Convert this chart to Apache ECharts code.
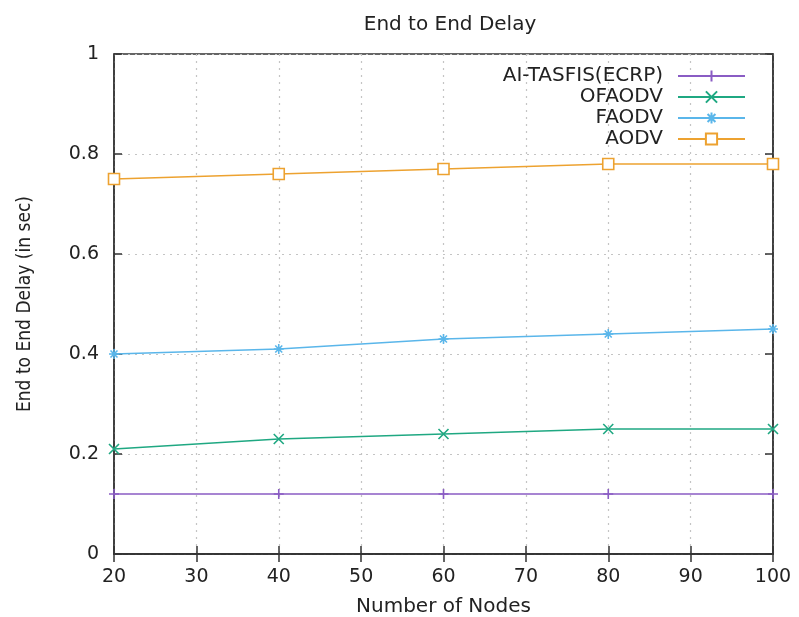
<!DOCTYPE html>
<html>
<head>
<meta charset="utf-8">
<script src="https://cdn.jsdelivr.net/npm/echarts@6/dist/echarts.min.js"></script>
<style>html,body{margin:0;padding:0;background:#fff;}#c{width:799px;height:617px;}</style>
</head>
<body>
<div id="c"></div>
<script>
const nodes = [20, 40, 60, 80, 100];
const aiTasfis = [0.12, 0.12, 0.12, 0.12, 0.12];
const ofaodv = [0.21, 0.23, 0.24, 0.25, 0.25];
const faodv = [0.40, 0.41, 0.43, 0.44, 0.45];
const aodv = [0.75, 0.76, 0.77, 0.78, 0.78];
const seriesNames = ['AI-TASFIS(ECRP)', 'OFAODV', 'FAODV', 'AODV'];

const FONT = 'DejaVu Sans';
const pair = arr => nodes.map((x, i) => [x, arr[i]]);

const styles = [
  {color: '#8a5cc4', symbol: 'path://M0,-1L0,1M-1,0L1,0', size: 10, fill: '#8a5cc4'},
  {color: '#1fa882', symbol: 'path://M-1,-1L1,1M-1,1L1,-1', size: 10, fill: '#1fa882'},
  {color: '#5ab6ea', symbol: 'path://M-1,0L1,0M0,-1L0,1M-0.7,-0.7L0.7,0.7M-0.7,0.7L0.7,-0.7', size: 10, fill: '#5ab6ea'},
  {color: '#eda230', symbol: 'rect', size: 11, fill: '#ffffff'}
];
const datasets = [aiTasfis, ofaodv, faodv, aodv];

const series = datasets.map((d, i) => ({
  name: seriesNames[i],
  type: 'line',
  data: pair(d),
  symbol: styles[i].symbol,
  symbolSize: styles[i].size,
  showAllSymbol: true,
  lineStyle: {color: styles[i].color, width: 1.6},
  itemStyle: {color: styles[i].fill, borderColor: styles[i].color, borderWidth: 1.6},
  emphasis: {disabled: true},
  z: 3
}));

const chart = echarts.init(document.getElementById('c'), null, {renderer: 'canvas'});
chart.setOption({
  animation: false,
  backgroundColor: '#ffffff',
  title: {
    text: 'End to End Delay',
    left: 445, top: 10, textAlign: 'center',
    textStyle: {fontFamily: FONT, fontSize: 20, fontWeight: 'normal', color: '#222'}
  },
  legend: {
    orient: 'vertical',
    align: 'right',
    right: 48, top: 61,
    itemGap: 1,
    itemWidth: 67, itemHeight: 14,
    data: seriesNames,
    textStyle: {fontFamily: FONT, fontSize: 20, color: '#222', padding: [0, 10, 0, 0]}
  },
  grid: {left: 114, right: 26, top: 54, bottom: 63, outerBoundsMode: 'none', containLabel: false, show: true, borderColor: '#333', borderWidth: 1.5, backgroundColor: 'transparent'},
  xAxis: [{
    type: 'value', min: 20, max: 100, interval: 10,
    name: 'Number of Nodes', nameLocation: 'middle', nameGap: 43,
    nameTextStyle: {fontFamily: FONT, fontSize: 20, color: '#222'},
    axisLine: {show: true, lineStyle: {color: '#333', width: 1.5}},
    axisTick: {show: true, inside: true, length: 8, lineStyle: {color: '#333', width: 1.5}},
    axisLabel: {fontFamily: FONT, fontSize: 19, color: '#222', margin: 14},
    splitLine: {show: true, lineStyle: {color: '#c4c4c4', type: [2, 5], width: 1.2}}
  }, {
    type: 'value', min: 20, max: 100, interval: 10, position: 'top',
    axisLine: {show: true, lineStyle: {color: '#333', width: 1.5}},
    axisTick: {show: true, inside: true, length: 8, lineStyle: {color: '#333', width: 1.5}},
    axisLabel: {show: false}, splitLine: {show: false}
  }],
  yAxis: [{
    type: 'value', min: 0, max: 1, interval: 0.2,
    name: 'End to End Delay (in sec)', nameLocation: 'middle', nameGap: 79, nameRotate: 90,
    nameTextStyle: {fontFamily: 'DejaVu Sans Condensed', fontSize: 19, color: '#222'},
    axisLine: {show: true, lineStyle: {color: '#333', width: 1.5}},
    axisTick: {show: true, inside: true, length: 8, lineStyle: {color: '#333', width: 1.5}},
    axisLabel: {fontFamily: FONT, fontSize: 19, color: '#222', margin: 15},
    splitLine: {show: true, lineStyle: {color: '#c4c4c4', type: [2, 5], width: 1.2}}
  }, {
    type: 'value', min: 0, max: 1, interval: 0.2, position: 'right',
    axisLine: {show: true, lineStyle: {color: '#333', width: 1.5}},
    axisTick: {show: true, inside: true, length: 8, lineStyle: {color: '#333', width: 1.5}},
    axisLabel: {show: false}, splitLine: {show: false}
  }],
  series: series
});
</script>
</body>
</html>
